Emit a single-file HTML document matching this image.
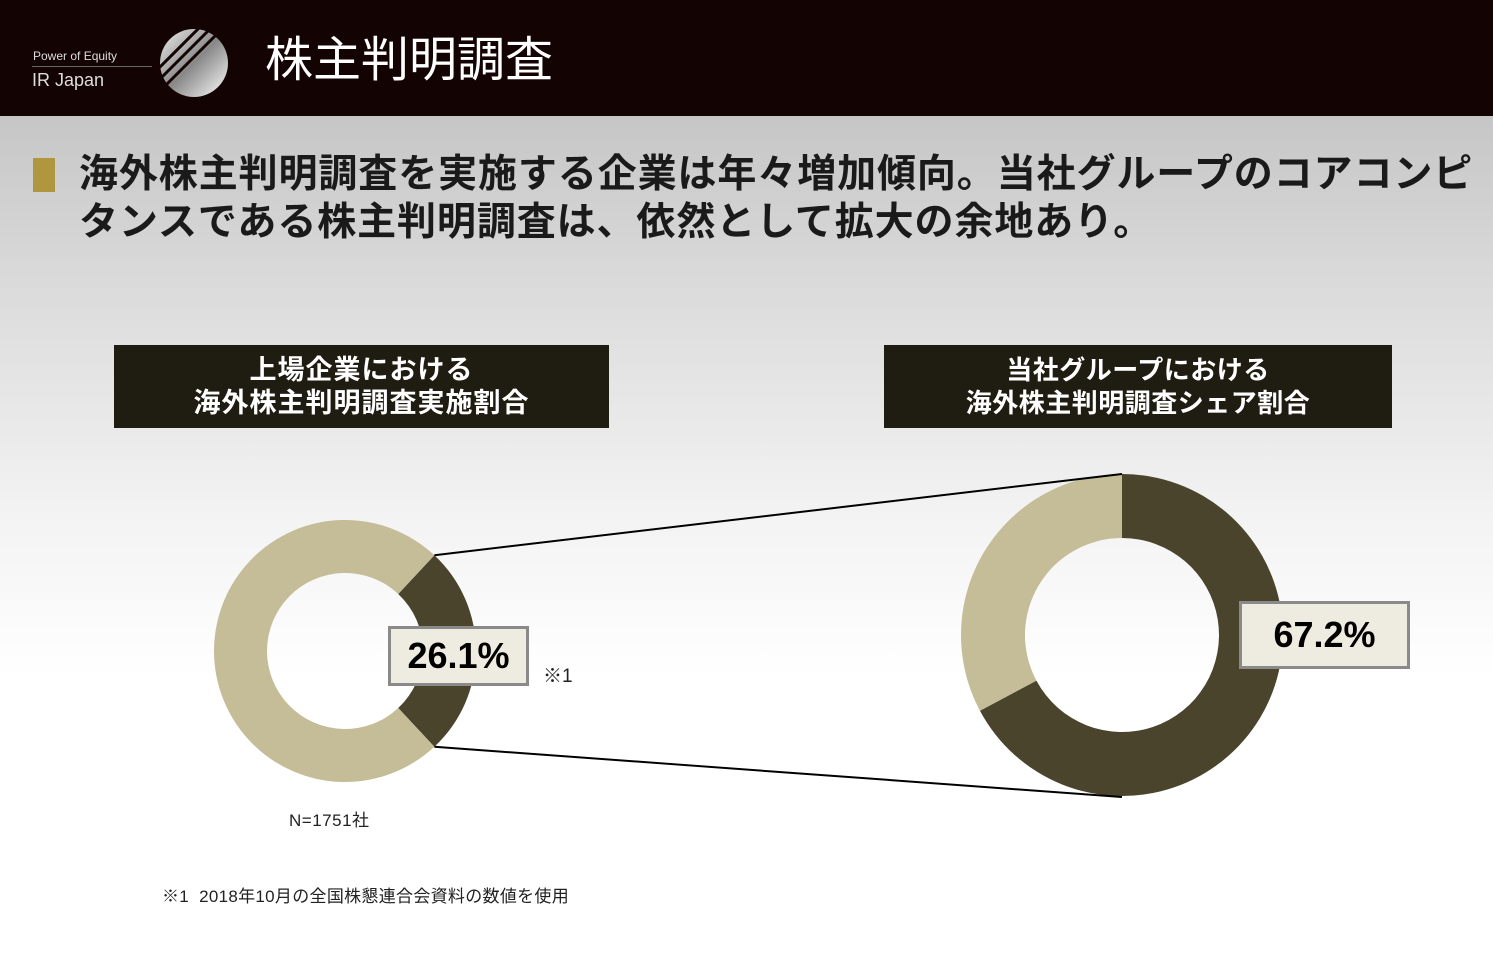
<!DOCTYPE html>
<html><head><meta charset="utf-8"><style>
body{margin:0;width:1493px;height:957px;overflow:hidden;font-family:"Liberation Sans","Noto Sans CJK JP",sans-serif;}
#hdr{position:absolute;left:0;top:0;width:1493px;height:116px;background:#140303;}
#bg{position:absolute;left:0;top:116px;width:1493px;height:841px;background:linear-gradient(#c6c6c6 0px,#dedede 200px,#f3f3f3 400px,#fff 560px,#fff 841px);}
.abs{position:absolute;}
.box{background:#1f1c12;color:#fff;font-weight:bold;font-size:26px;line-height:33px;text-align:center;box-sizing:border-box;padding-top:9px;letter-spacing:0.5px;}
.lbl{background:#eeebe0;border:3px solid #8a8a8a;font-weight:bold;font-size:36px;text-align:center;box-sizing:border-box;color:#000;}
</style></head><body>
<div id="hdr"></div>
<div class="abs" style="left:33px;top:49px;color:#ddd;font-size:12px;">Power of Equity</div>
<div class="abs" style="left:32px;top:66px;width:120px;height:1px;background:#666;"></div>
<div class="abs" style="left:32px;top:70px;color:#ddd;font-size:18px;">IR Japan</div>
<svg class="abs" style="left:158px;top:27px" width="72" height="72" viewBox="0 0 72 72">
<defs><linearGradient id="lg" x1="0" y1="0" x2="1" y2="1"><stop offset="0" stop-color="#eee"/><stop offset=".5" stop-color="#888"/><stop offset="1" stop-color="#fff"/></linearGradient></defs>
<circle cx="36" cy="36" r="34" fill="url(#lg)"/>
<g stroke="#140303" stroke-width="3"><line x1="0" y1="42" x2="44" y2="-2"/><line x1="4" y1="50" x2="52" y2="2"/><line x1="8" y1="58" x2="60" y2="6"/></g>
</svg>
<div class="abs" style="left:265px;top:32px;color:#fff;font-size:48px;line-height:58px;">株主判明調査</div>
<div id="bg"></div>
<div class="abs" style="left:33px;top:158px;width:22px;height:34px;background:#b0963e;"></div>
<div class="abs" style="left:79px;top:151px;font-size:39px;font-weight:bold;line-height:48px;color:#1a1a1a;width:1414px;white-space:nowrap;letter-spacing:0.9px;">海外株主判明調査を実施する企業は年々増加傾向。当社グループのコアコンピ<br>タンスである株主判明調査は、依然として拡大の余地あり。</div>
<div class="abs box" style="left:114px;top:345px;width:495px;height:83px;font-size:27px;letter-spacing:1px;">上場企業における<br>海外株主判明調査実施割合</div>
<div class="abs box" style="left:884px;top:345px;width:508px;height:83px;">当社グループにおける<br>海外株主判明調査シェア割合</div>
<svg id="chart" class="abs" style="left:0;top:0" width="1493" height="957"></svg>
<div class="abs lbl" style="left:388px;top:626px;width:141px;height:60px;line-height:54px;">26.1%</div>
<div class="abs" style="left:543px;top:661px;font-size:19px;color:#222;">※1</div>
<div class="abs lbl" style="left:1239px;top:601px;width:171px;height:68px;line-height:62px;">67.2%</div>
<div class="abs" style="left:289px;top:806px;font-size:17px;color:#222;letter-spacing:0.5px;">N=1751社</div>
<div class="abs" style="left:162px;top:882px;font-size:17px;color:#222;letter-spacing:0.3px;">※1&nbsp;&nbsp;2018年10月の全国株懇連合会資料の数値を使用</div>
<script>
const leftValues=[26.1,73.9];
const rightValues=[67.2,32.8];
const colors=["#4a442d","#c4bd98"];
const svg=document.getElementById('chart');
const NS='http://www.w3.org/2000/svg';
function pt(cx,cy,r,a){return [cx+r*Math.sin(a),cy-r*Math.cos(a)];}
function arc(cx,cy,ro,ri,a0,a1,fill,name){
  const p1=pt(cx,cy,ro,a0),p2=pt(cx,cy,ro,a1),p3=pt(cx,cy,ri,a1),p4=pt(cx,cy,ri,a0);
  const lg=(a1-a0)>Math.PI?1:0;
  const p=document.createElementNS(NS,'path');
  p.setAttribute('d',`M${p1}A${ro},${ro} 0 ${lg} 1 ${p2}L${p3}A${ri},${ri} 0 ${lg} 0 ${p4}Z`);
  p.setAttribute('fill',fill);
  
  
  svg.appendChild(p);
}
function donut(cx,cy,ro,ri,vals,start,prefix){
  const tot=vals.reduce((a,b)=>a+b,0);let a=start;const ends=[];
  vals.forEach((v,i)=>{const s=v/tot*2*Math.PI;arc(cx,cy,ro,ri,a,a+s,colors[i],prefix+'-slice-'+i);ends.push([a,a+s]);a+=s;});
  return ends;
}
const lA=leftValues[0]/100*2*Math.PI;
const le=donut(345,651,131,78,leftValues,Math.PI/2-lA/2,'left-donut');
const re=donut(1122,635,161,97,rightValues,0,'right-donut');
const a=pt(345,651,131,le[0][0]),b=pt(345,651,131,le[0][1]);
[[a,[1122,474]],[b,[1122,797]]].forEach((l,i)=>{
  const ln=document.createElementNS(NS,'line');
  ln.setAttribute('x1',l[0][0]);ln.setAttribute('y1',l[0][1]);ln.setAttribute('x2',l[1][0]);ln.setAttribute('y2',l[1][1]);
  ln.setAttribute('stroke','#000');ln.setAttribute('stroke-width','2');
  
  
  svg.appendChild(ln);
});
</script>
</body></html>
